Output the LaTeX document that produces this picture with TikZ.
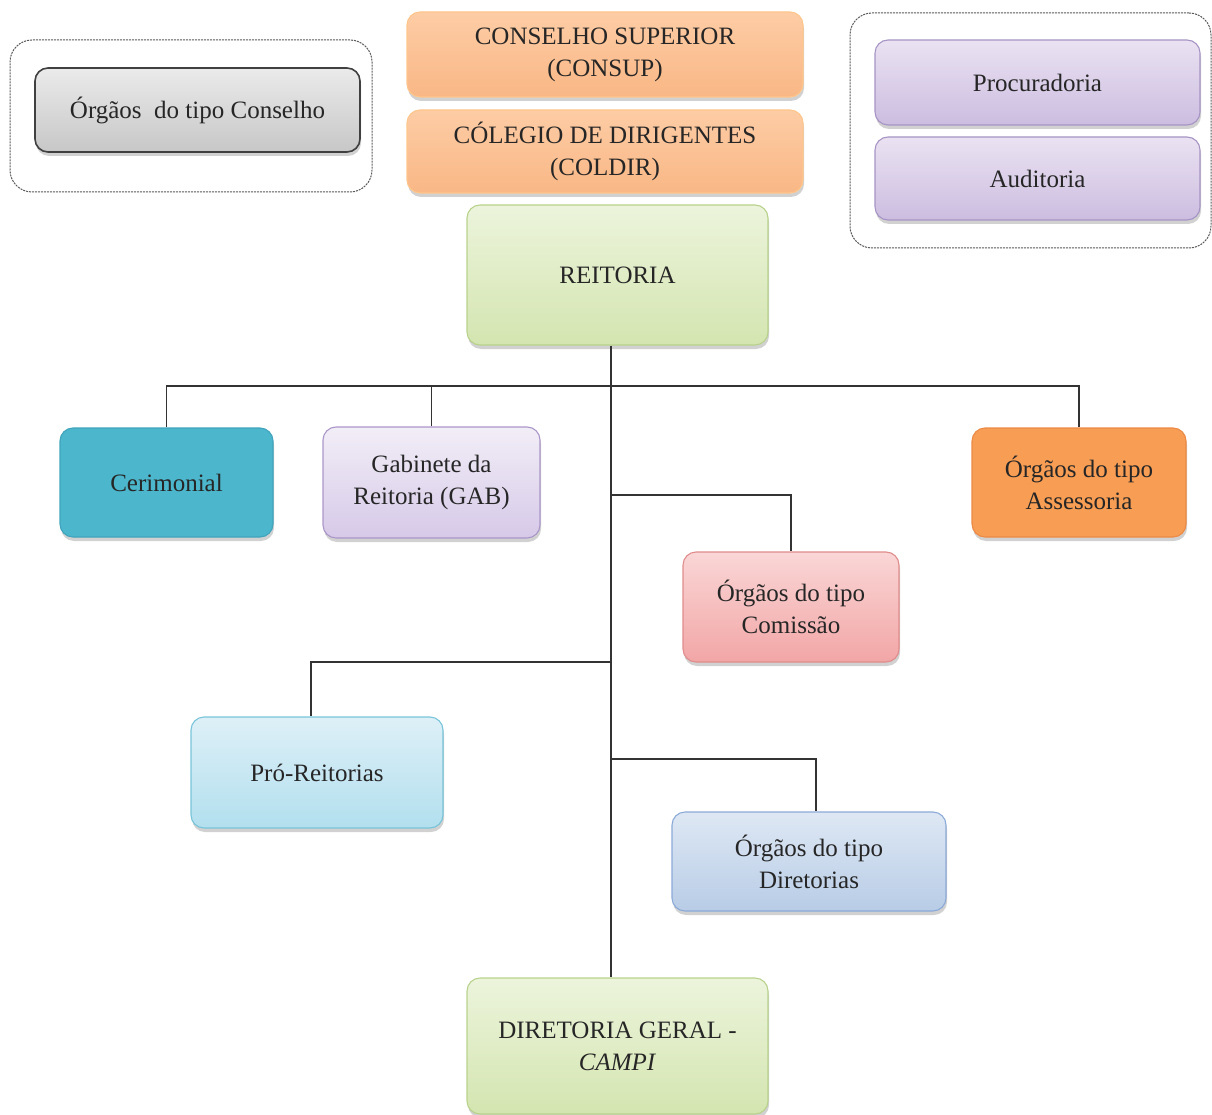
\documentclass[tikz,border=0pt]{standalone}
\usepackage{fontspec}
\setmainfont{Liberation Serif}
\usetikzlibrary{shadows}
\definecolor{linec}{HTML}{333333}
\tikzset{
  px/.style={x=1pt,y=-1pt},
  orgbox/.style={rounded corners=13pt, inner sep=0pt, align=center, line width=1.1pt,
    font=\fontsize{25}{32}\selectfont, text=black!85,
    drop shadow={shadow xshift=1pt, shadow yshift=-4pt, opacity=0.3, fill=black!60}},
  grp/.style={draw=black!65, dashed, dash pattern=on 2pt off 1pt, line width=1pt, rounded corners=22pt, inner sep=0pt},
  conn/.style={draw=linec, line width=1.4pt},
  grayb/.style={orgbox, draw=black!75, line width=1.6pt, top color=white!92!black, bottom color=white!78!black},
  orangeb/.style={orgbox, draw=orange!45, top color={rgb,255:red,253;green,204;blue,165}, bottom color={rgb,255:red,249;green,183;blue,133}},
  purpleb/.style={orgbox, draw={rgb,255:red,166;green,148;blue,196}, top color={rgb,255:red,234;green,226;blue,242}, bottom color={rgb,255:red,204;green,189;blue,224}},
  greenb/.style={orgbox, draw={rgb,255:red,184;green,210;blue,140}, top color={rgb,255:red,236;green,244;blue,220}, bottom color={rgb,255:red,212;green,229;blue,176}},
  tealb/.style={orgbox, draw={rgb,255:red,64;green,164;blue,188}, fill={rgb,255:red,75;green,182;blue,204}},
  lavb/.style={orgbox, draw={rgb,255:red,170;green,150;blue,200}, top color={rgb,255:red,242;green,238;blue,247}, bottom color={rgb,255:red,214;green,201;blue,232}},
  assesb/.style={orgbox, draw={rgb,255:red,236;green,138;blue,70}, fill={rgb,255:red,247;green,157;blue,84}},
  pinkb/.style={orgbox, draw={rgb,255:red,224;green,140;blue,140}, top color={rgb,255:red,250;green,214;blue,214}, bottom color={rgb,255:red,242;green,166;blue,166}},
  lblueb/.style={orgbox, draw={rgb,255:red,120;green,196;blue,216}, top color={rgb,255:red,222;green,240;blue,247}, bottom color={rgb,255:red,178;green,223;blue,238}},
  blueb/.style={orgbox, draw={rgb,255:red,140;green,170;blue,215}, top color={rgb,255:red,222;green,232;blue,244}, bottom color={rgb,255:red,184;green,204;blue,230}},
}
\begin{document}
\begin{tikzpicture}[px]
\useasboundingbox (0,0) rectangle (1212,1115);
% groups
\node[grp, minimum width=362pt, minimum height=152pt] (gl) at (191,116) {};
\node[grp, minimum width=361pt, minimum height=235pt] (gr) at (1030.5,130.5) {};
% top boxes
\node[grayb, minimum width=325pt, minimum height=84pt] (consel) at (197.5,110) {Órgãos\ \ do tipo Conselho};
\node[orangeb, minimum width=396pt, minimum height=85pt] (consup) at (605,54.5) {CONSELHO SUPERIOR\\(CONSUP)};
\node[orangeb, minimum width=396pt, minimum height=83pt] (coldir) at (605,151.5) {CÓLEGIO DE DIRIGENTES\\(COLDIR)};
\node[purpleb, minimum width=325pt, minimum height=85pt] (procur) at (1037.5,82.5) {Procuradoria};
\node[purpleb, minimum width=325pt, minimum height=83pt] (audit) at (1037.5,178.5) {Auditoria};
\node[greenb, minimum width=301pt, minimum height=140pt] (reit) at (617.5,275) {REITORIA};
% second level
\node[tealb, minimum width=213pt, minimum height=109pt] (ceri) at (166.5,482.5) {Cerimonial};
\node[lavb, minimum width=217pt, minimum height=111pt] (gab) at (431.5,482.5) {Gabinete da\\Reitoria (GAB)};
\node[assesb, minimum width=214pt, minimum height=109pt] (asses) at (1079,482.5) {Órgãos do tipo\\Assessoria};
\node[pinkb, minimum width=216pt, minimum height=110pt] (comis) at (791,607) {Órgãos do tipo\\Comissão};
\node[lblueb, minimum width=252pt, minimum height=111pt] (pro) at (317,772.5) {Pró-Reitorias};
\node[blueb, minimum width=274pt, minimum height=99pt] (diret) at (809,861.5) {Órgãos do tipo\\Diretorias};
\node[greenb, minimum width=301pt, minimum height=136pt] (dg) at (617.5,1046) {DIRETORIA GERAL -\\\textit{CAMPI}};
% connectors
\coordinate (hb) at (611,386);
\coordinate (c1) at (611,495);
\coordinate (c2) at (611,662);
\coordinate (c3) at (611,759);
\draw[conn] (reit.south -| hb) -- (dg.north -| hb);
\draw[conn] (ceri.north) |- (hb) -| (asses.north);
\draw[conn] (gab.north) -- (gab.north |- hb);
\draw[conn] (c1) -| (comis.north);
\draw[conn] (c2) -| ([xshift=-6pt]pro.north);
\draw[conn] (c3) -| ([xshift=7pt]diret.north);
\end{tikzpicture}
\end{document}
